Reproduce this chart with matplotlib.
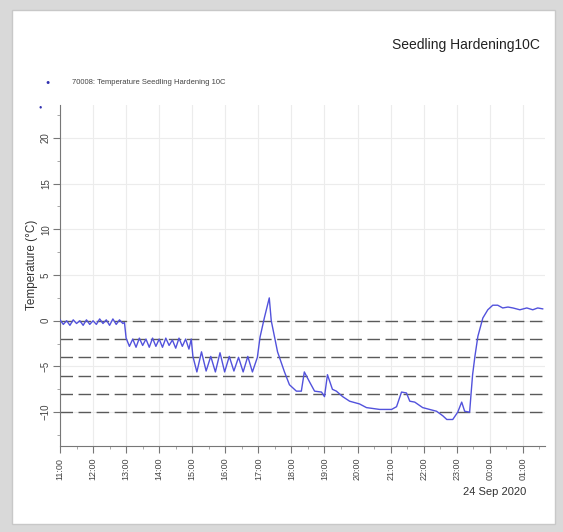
import matplotlib.pyplot as plt
from matplotlib.patches import Rectangle
from matplotlib.ticker import MultipleLocator

plt.rcParams['font.family'] = ['Liberation Sans', 'DejaVu Sans']

# time in hours (24 = midnight), temperature in degC
hours = [11.0, 11.1, 11.2, 11.3, 11.4, 11.5, 11.6, 11.7, 11.8, 11.9,
         12.0, 12.1, 12.2, 12.3, 12.4, 12.5, 12.6, 12.7, 12.8, 12.9,
         12.95, 13.0, 13.1, 13.2, 13.3, 13.4, 13.5, 13.6, 13.7, 13.8,
         13.9, 14.0, 14.1, 14.2, 14.3, 14.4, 14.5, 14.6, 14.7, 14.8,
         14.9, 14.97, 15.02, 15.14, 15.28, 15.42, 15.56, 15.7, 15.84,
         15.98, 16.12, 16.26, 16.4, 16.54, 16.68, 16.82, 16.97,
         17.05, 17.18, 17.33, 17.39, 17.58, 17.79, 17.94, 18.15, 18.30,
         18.39, 18.55, 18.70, 18.91, 19.0, 19.09, 19.24, 19.36, 19.55,
         19.76, 20.06, 20.27, 20.67, 21.03, 21.18, 21.33, 21.48, 21.58,
         21.73, 21.97, 22.18, 22.39, 22.58, 22.70, 22.88, 23.03, 23.15,
         23.24, 23.39, 23.44, 23.48, 23.55, 23.64, 23.79, 23.94, 24.09,
         24.24, 24.39, 24.55, 24.70, 24.91, 25.12, 25.30, 25.45, 25.6]
temps = [0.1, -0.4, 0.0, -0.5, 0.1, -0.3, 0.0, -0.5, 0.1, -0.4,
         0.0, -0.4, 0.2, -0.3, 0.1, -0.5, 0.2, -0.4, 0.1, -0.3,
         -0.2, -1.9, -2.8, -2.0, -2.9, -1.9, -2.7, -2.0, -2.9, -1.9,
         -2.8, -2.0, -2.9, -1.9, -2.7, -2.1, -3.0, -1.9, -2.8, -2.0,
         -3.1, -2.0, -3.9, -5.6, -3.4, -5.5, -3.9, -5.6, -3.5,
         -5.6, -3.9, -5.5, -4.0, -5.6, -3.9, -5.6, -4.0,
         -1.8, 0.3, 2.5, 0.0, -3.4, -5.6, -7.0, -7.7, -7.7,
         -5.6, -6.7, -7.7, -7.8, -8.3, -5.9, -7.5, -7.7, -8.3,
         -8.8, -9.1, -9.5, -9.7, -9.7, -9.4, -7.8, -7.9, -8.8,
         -8.9, -9.5, -9.7, -9.9, -10.4, -10.8, -10.8, -10.0, -8.9,
         -9.9, -10.0, -7.7, -5.9, -3.9, -1.7, 0.3, 1.2, 1.7,
         1.7, 1.4, 1.5, 1.4, 1.2, 1.4, 1.2, 1.4, 1.3]

tick_hours = [11, 12, 13, 14, 15, 16, 17, 18, 19, 20, 21, 22, 23, 24, 25]
tick_labels = ['11:00', '12:00', '13:00', '14:00', '15:00', '16:00', '17:00',
               '18:00', '19:00', '20:00', '21:00', '22:00', '23:00', '00:00', '01:00']
band_levels = [0, -2, -4, -6, -8, -10]

fig = plt.figure(figsize=(5.63, 5.32), dpi=100, facecolor='#d9d9d9')
fig.patches.append(Rectangle((12 / 563, 8 / 532), 543 / 563, 514 / 532,
                             transform=fig.transFigure, facecolor='white',
                             edgecolor='#c8c8c8', lw=1, zorder=-5))

ax = fig.add_axes([60 / 563, 86 / 532, 485 / 563, 341 / 532])
ax.set_facecolor('white')
ax.plot(hours, temps, color='#5252dc', lw=1, zorder=3)

for lv in band_levels:
    ax.axhline(lv, color='#5a5a5a', lw=1, dashes=(9, 4), zorder=2)

ax.set_xlim(11, 25.67)
ax.set_ylim(-13.7, 23.6)
ax.set_xticks(tick_hours)
ax.set_xticklabels(tick_labels, rotation=90, fontsize=6.5, color='#444444')
ax.xaxis.set_minor_locator(MultipleLocator(0.5))
ax.set_yticks([-10, -5, 0, 5, 10, 15, 20])
ax.yaxis.set_minor_locator(MultipleLocator(2.5))
for lab in ax.get_yticklabels():
    lab.set_rotation(90)
    lab.set_va('center')
    lab.set_fontsize(7)
    lab.set_color('#444444')
ax.tick_params(which='major', length=5, color='#777777')
ax.tick_params(axis='y', which='major', pad=1.5)
ax.tick_params(which='minor', length=2.5, color='#999999')
ax.grid(True, which='major', color='#ececec', lw=0.8, zorder=0)

for side in ['top', 'right']:
    ax.spines[side].set_visible(False)
for side in ['left', 'bottom']:
    ax.spines[side].set_color('#777777')

ax.set_ylabel('Temperature (°C)', fontsize=8.5, color='#333333')
ax.yaxis.set_label_coords(-0.046, 0.53)

fig.text(540 / 563, 1 - 45 / 532, 'Seedling Hardening10C', ha='right', va='center',
         fontsize=10, color='#222222')
fig.text(48 / 563, 1 - 83 / 532, '\u25cf', ha='center', va='center', fontsize=5,
         color='#3030b0')
fig.text(40 / 563, 1 - 107 / 532, '\u25cf', ha='center', va='center', fontsize=4,
         color='#3030b0')
fig.text(72 / 563, 1 - 82 / 532, '70008: Temperature Seedling Hardening 10C',
         ha='left', va='center', fontsize=5.5, color='#444444')
fig.text(495 / 563, 1 - 492 / 532, '24 Sep 2020', ha='center', va='center',
         fontsize=8, color='#333333')

fig.savefig('out.png', dpi=100, facecolor=fig.get_facecolor())
